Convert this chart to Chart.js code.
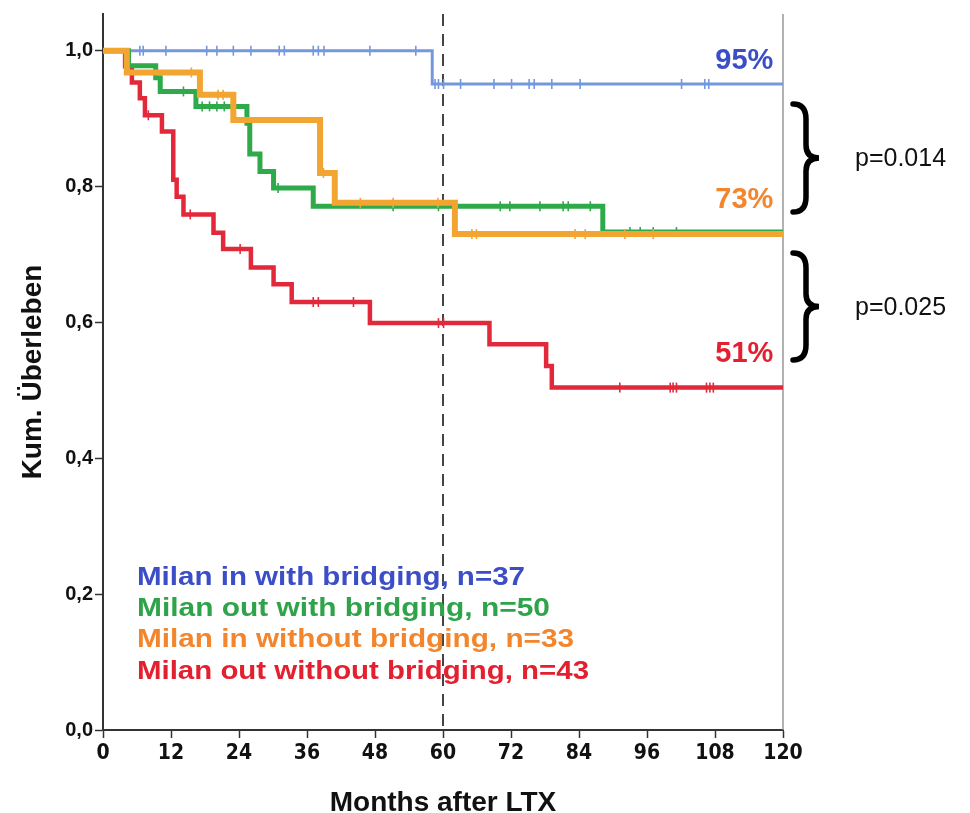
<!DOCTYPE html>
<html>
<head>
<meta charset="utf-8">
<script src="https://cdn.jsdelivr.net/npm/chart.js@4.4.1/dist/chart.umd.min.js"></script>
<style>
html,body{margin:0;padding:0;background:#fff;}
#wrap{width:970px;height:813px;}
</style>
</head>
<body>
<div id="wrap"><canvas id="c" width="970" height="813"></canvas></div>
<script>
// ---- data ----
const xTicks = [0, 12, 24, 36, 48, 60, 72, 84, 96, 108, 120];
const yTicks = [0, 0.2, 0.4, 0.6, 0.8, 1.0];

const blueTimes = [0, 58.1, 120];
const blueSurv  = [1.0, 0.951, 0.951];
const blueCens  = [6.5, 7.1, 11.1, 18.3, 20.1, 23.0, 26.1, 31.1, 32.0, 37.1, 38.0, 39.0, 47.1, 55.2,
                   58.6, 59.2, 60.1, 63.1, 69.0, 72.1, 75.2, 76.1, 79.2, 84.2, 102.1, 106.2, 106.9];

const greenTimes = [0, 4.5, 9.3, 10.1, 16.4, 25.4, 25.9, 27.7, 30.1, 37.1, 88.2, 120];
const greenSurv  = [1.0, 0.978, 0.960, 0.940, 0.918, 0.893, 0.848, 0.822, 0.798, 0.771, 0.733, 0.733];
const greenCens  = [14.2, 17.5, 18.8, 20.1, 21.4, 22.7, 30.9, 51.2, 59.2, 70.1, 71.8, 77.1, 81.2, 82.1, 86.0,
                    93.0, 94.8, 97.1, 101.2];

const orangeTimes = [0, 4.2, 17.1, 23.0, 38.3, 40.9, 62.1, 120];
const orangeSurv  = [1.0, 0.968, 0.935, 0.898, 0.820, 0.776, 0.730, 0.730];
const orangeCens  = [15.6, 20.3, 21.2, 38.9, 45.4, 51.2, 59.1, 65.1, 65.9, 83.3, 85.1, 92.1, 97.1];

const redTimes = [0, 3.9, 5.1, 6.5, 7.4, 10.4, 12.4, 13.0, 14.2, 19.5, 21.2, 26.1, 30.1, 33.3, 47.1, 68.2, 78.2, 79.2, 120];
const redSurv  = [1.0, 0.977, 0.953, 0.930, 0.905, 0.881, 0.810, 0.785, 0.759, 0.732, 0.708, 0.681, 0.656, 0.630, 0.599, 0.568, 0.536, 0.504, 0.504];
const redCens  = [8.0, 15.4, 24.2, 37.1, 38.0, 44.2, 59.2, 60.1, 91.2, 100.1, 100.6, 101.2, 106.5, 107.1, 107.7];

const seriesNames = ['Milan in with bridging, n=37', 'Milan out with bridging, n=50',
                     'Milan in without bridging, n=33', 'Milan out without bridging, n=43'];
const endLabels = ['95%', '73%', '51%'];
const endLabelValues = [0.985, 0.78, 0.553];
const pLabels = ['p=0.014', 'p=0.025'];
const xTitle = 'Months after LTX';
const yTitle = 'Kum. Überleben';
const dashedAt = 60;

// ---- helpers ----
function pts(times, surv){ return times.map((t,i)=>({x:t, y:surv[i]})); }
function survAt(times, surv, t){
  let v = surv[0];
  for (let i=0;i<times.length;i++){ if (times[i] <= t) v = surv[i]; }
  return v;
}
function cens(times, surv, c){ return c.map(t=>({x:t, y:survAt(times, surv, t)})); }

const C = {
  blue:'#7498dd', green:'#2eaa4a', orange:'#f2a531', red:'#e2293b',
  blueT:'#3b4ec6', greenT:'#2ea34a', orangeT:'#f3852d', redT:'#e3202f'
};

function lineDs(label, data, color, w){
  return {type:'line', label, data, borderColor:color, borderWidth:w, stepped:true,
          pointRadius:0, fill:false, tension:0};
}
function censDs(data, color){
  return {type:'scatter', data, borderColor:color, backgroundColor:color, pointStyle:'line',
          rotation:90, pointRadius:5, borderWidth:1.6, showLine:false};
}

const overlay = {
  id:'overlay',
  beforeDatasetsDraw(chart){
    const {ctx, chartArea:a, scales:{x}} = chart;
    const px = x.getPixelForValue(dashedAt);
    ctx.save();
    ctx.strokeStyle = '#999'; ctx.lineWidth = 1.5;
    ctx.beginPath(); ctx.moveTo(a.right, a.top); ctx.lineTo(a.right, a.bottom); ctx.stroke();
    ctx.strokeStyle = '#444'; ctx.lineWidth = 2; ctx.setLineDash([12,8]);
    ctx.beginPath(); ctx.moveTo(px, a.top); ctx.lineTo(px, a.bottom); ctx.stroke();
    ctx.restore();
  },
  afterDatasetsDraw(chart){
    const {ctx, scales:{x,y}} = chart;
    ctx.save();
    // end percentages
    const cols = [C.blueT, C.orangeT, C.redT];
    ctx.font = 'bold 29px "Liberation Sans", Arial, sans-serif';
    ctx.textAlign = 'right'; ctx.textBaseline = 'middle';
    endLabels.forEach((t,i)=>{
      ctx.fillStyle = cols[i];
      ctx.fillText(t, x.getPixelForValue(118.3), y.getPixelForValue(endLabelValues[i]));
    });
    // legend
    const lc = [C.blueT, C.greenT, C.orangeT, C.redT];
    ctx.font = 'bold 25px "Liberation Sans", Arial, sans-serif';
    ctx.textAlign = 'left';
    seriesNames.forEach((t,i)=>{
      const w = ctx.measureText(t).width;
      const target = [388, 413, 437, 452][i];
      ctx.save();
      ctx.translate(137, 578 + i*31.3);
      ctx.scale(target / w, 1);
      ctx.fillStyle = lc[i];
      ctx.fillText(t, 0, 0);
      ctx.restore();
    });
    // braces
    function brace(x0, y0, y1, w){
      const h = y1 - y0, mid = (y0+y1)/2, xs = x0 + w*0.5;
      ctx.beginPath();
      ctx.moveTo(x0, y0);
      ctx.quadraticCurveTo(xs, y0, xs, y0 + h*0.14);
      ctx.lineTo(xs, mid - h*0.12);
      ctx.quadraticCurveTo(xs, mid, x0 + w, mid);
      ctx.quadraticCurveTo(xs, mid, xs, mid + h*0.12);
      ctx.lineTo(xs, y1 - h*0.14);
      ctx.quadraticCurveTo(xs, y1, x0, y1);
      ctx.stroke();
    }
    ctx.strokeStyle = '#000'; ctx.lineWidth = 5.5; ctx.lineCap = 'round';
    brace(793, 104, 212, 26);
    brace(793, 253, 360, 26);
    ctx.fillStyle = '#111';
    ctx.font = '25px "Liberation Sans", Arial, sans-serif';
    ctx.textAlign = 'left';
    ctx.fillText(pLabels[0], 855, 159);
    ctx.fillText(pLabels[1], 855, 308);
    ctx.restore();
  }
};

new Chart(document.getElementById('c'), {
  data:{
    datasets:[
      lineDs(seriesNames[2], pts(orangeTimes, orangeSurv), C.orange, 6),
      censDs(cens(orangeTimes, orangeSurv, orangeCens), C.orange),
      lineDs(seriesNames[1], pts(greenTimes, greenSurv), C.green, 5),
      censDs(cens(greenTimes, greenSurv, greenCens), C.green),
      lineDs(seriesNames[3], pts(redTimes, redSurv), C.red, 4.5),
      censDs(cens(redTimes, redSurv, redCens), C.red),
      lineDs(seriesNames[0], pts(blueTimes, blueSurv), C.blue, 3),
      censDs(cens(blueTimes, blueSurv, blueCens), C.blue)
    ]
  },
  options:{
    responsive:false, animation:false, devicePixelRatio:1,
    layout:{padding:{left:0, right:187, top:10, bottom:0}},
    plugins:{legend:{display:false}, tooltip:{enabled:false}},
    scales:{
      x:{
        type:'linear', min:0, max:120,
        afterBuildTicks(s){ s.ticks = xTicks.map(v=>({value:v})); },
        afterFit(s){ s.height = 83; },
        grid:{display:true, drawOnChartArea:false, drawTicks:true, tickLength:8, tickColor:'#333', tickWidth:1.5},
        border:{display:true, color:'#333', width:2},
        ticks:{color:'#111', padding:3, maxRotation:0, autoSkip:false,
               font:{family:'"Liberation Sans Narrow", "DejaVu Sans Condensed", sans-serif', weight:'bold', size:21}},
        title:{display:true, text:xTitle, color:'#111', padding:{top:0, bottom:-4},
               font:{family:'"Liberation Sans", Arial, sans-serif', weight:'bold', size:28, lineHeight:1}}
      },
      y:{
        type:'linear', min:0, max:1.054,
        afterBuildTicks(s){ s.ticks = yTicks.map(v=>({value:v})); },
        afterFit(s){ s.width = 103; },
        grid:{display:true, drawOnChartArea:false, drawTicks:true, tickLength:8, tickColor:'#333', tickWidth:1.5},
        border:{display:true, color:'#333', width:2},
        ticks:{color:'#111', padding:2,
               callback:v=>v.toFixed(1).replace('.', ','),
               font:{family:'"Liberation Sans", Arial, sans-serif', weight:'bold', size:20}},
        title:{display:true, text:yTitle, color:'#111', padding:{top:19, bottom:0},
               font:{family:'"Liberation Sans", Arial, sans-serif', weight:'bold', size:28, lineHeight:1}}
      }
    }
  },
  plugins:[overlay]
});
</script>
</body>
</html>
